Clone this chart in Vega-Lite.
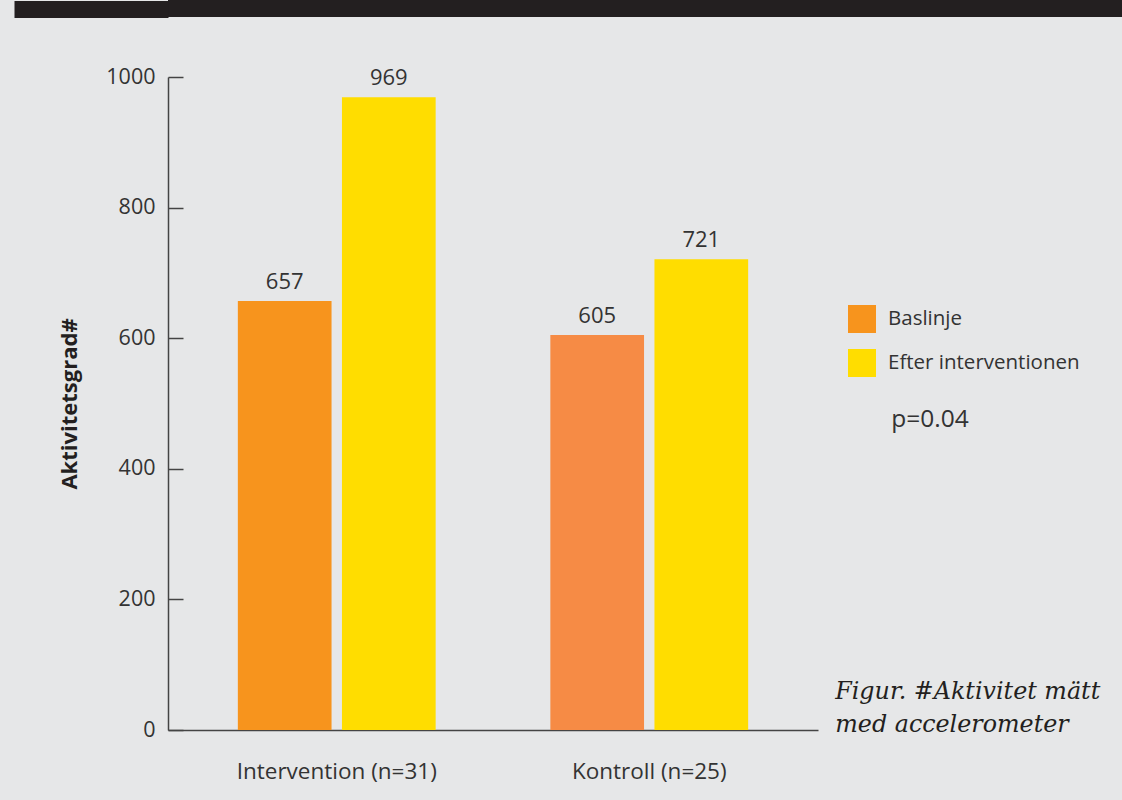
{
  "$schema": "https://vega.github.io/schema/vega-lite/v6.json",
  "background": "#E6E7E8",
  "padding": {"left": 0, "top": 0, "right": 0, "bottom": 24},
  "spacing": 48,
  "config": {
    "font": "Open Sans",
    "view": {"stroke": null},
    "legend": {"padding": 0}
  },
  "vconcat": [
    {
      "width": 954,
      "height": 17,
      "view": {"fill": "#231F20", "stroke": null},
      "data": {"values": []},
      "mark": {"type": "text"},
      "encoding": {
        "y": {
          "field": "v",
          "type": "quantitative",
          "scale": {"domain": [0, 1]},
          "axis": {
            "title": null,
            "values": [0.5],
            "labels": false,
            "domain": false,
            "grid": false,
            "ticks": true,
            "tickSize": 154,
            "tickWidth": 17,
            "tickColor": "#231F20"
          }
        }
      }
    },
    {
      "width": 650,
      "height": 653,
      "data": {
        "values": [
          {"group": "Intervention (n=31)", "series": "Baslinje", "value": 657},
          {"group": "Intervention (n=31)", "series": "Efter interventionen", "value": 969},
          {"group": "Kontroll (n=25)", "series": "Baslinje", "value": 605},
          {"group": "Kontroll (n=25)", "series": "Efter interventionen", "value": 721}
        ]
      },
      "layer": [
        {
          "mark": {"type": "bar"},
          "encoding": {
            "x": {
              "field": "group",
              "type": "nominal",
              "sort": null,
              "scale": {"paddingInner": 0.367, "paddingOuter": 0.2235},
              "axis": {
                "title": " ",
                "titleX": -168,
                "titleY": 0,
                "titleAnchor": "start",
                "titleAlign": "left",
                "titleFontSize": 1,
                "labelAngle": 0,
                "labelFontSize": 22.5,
                "labelColor": "#333333",
                "labelPadding": 30,
                "labelLimit": 500,
                "ticks": false,
                "domainColor": "#444444",
                "domainWidth": 1.5
              }
            },
            "xOffset": {
              "field": "series",
              "type": "nominal",
              "sort": null,
              "scale": {"paddingInner": 0.1, "paddingOuter": 0}
            },
            "y": {
              "field": "value",
              "type": "quantitative",
              "scale": {"domain": [0, 1000], "nice": false},
              "axis": {
                "title": "Aktivitetsgrad#",
                "values": [0, 200, 400, 600, 800, 1000],
                "format": "d",
                "grid": false,
                "domainColor": "#444444",
                "domainWidth": 1.5,
                "tickColor": "#444444",
                "tickWidth": 1.5,
                "tickSize": -15,
                "labelPadding": 28,
                "labelFontSize": 21.5,
                "labelColor": "#333333",
                "labelFlush": false,
                "titleFontSize": 22,
                "titleFontWeight": "bold",
                "titleColor": "#231F20",
                "titlePadding": 24
              }
            },
            "color": {
              "condition": {
                "test": "datum.group === 'Kontroll (n=25)' && datum.series === 'Baslinje'",
                "value": "#F68B45"
              },
              "field": "series",
              "type": "nominal",
              "sort": null,
              "scale": {
                "domain": ["Baslinje", "Efter interventionen"],
                "range": ["#F7941D", "#FFDD00"]
              },
              "legend": {
                "title": null,
                "orient": "none",
                "legendX": 680,
                "legendY": 305,
                "symbolType": "square",
                "symbolSize": 784,
                "symbolStrokeWidth": 0,
                "symbolOpacity": 1,
                "labelFontSize": 20.5,
                "labelColor": "#333333",
                "labelOffset": 12,
                "labelLimit": 400,
                "rowPadding": 16
              }
            }
          }
        },
        {
          "mark": {"type": "text", "dy": -12, "baseline": "alphabetic", "fontSize": 22, "color": "#333333"},
          "encoding": {
            "x": {"field": "group", "type": "nominal", "sort": null},
            "xOffset": {"field": "series", "type": "nominal", "sort": null},
            "y": {"field": "value", "type": "quantitative"},
            "text": {"field": "value", "type": "quantitative"}
          }
        },
        {
          "data": {"values": [{"note": "p=0.04"}]},
          "mark": {"type": "text", "align": "left", "baseline": "alphabetic", "dx": 242, "fontSize": 24.5, "color": "#333333"},
          "encoding": {
            "x": {"datum": "Kontroll (n=25)"},
            "y": {"datum": 464},
            "text": {"field": "note"}
          }
        },
        {
          "data": {"values": [{"note": "Figur. #Aktivitet mätt\nmed accelerometer"}]},
          "mark": {
            "type": "text",
            "align": "left",
            "baseline": "alphabetic",
            "dx": 186,
            "lineBreak": "\n",
            "lineHeight": 33,
            "font": "DejaVu Serif",
            "fontStyle": "italic",
            "fontSize": 23.8,
            "color": "#231F20"
          },
          "encoding": {
            "x": {"datum": "Kontroll (n=25)"},
            "y": {"datum": 47.5},
            "text": {"field": "note"}
          }
        }
      ]
    }
  ]
}
